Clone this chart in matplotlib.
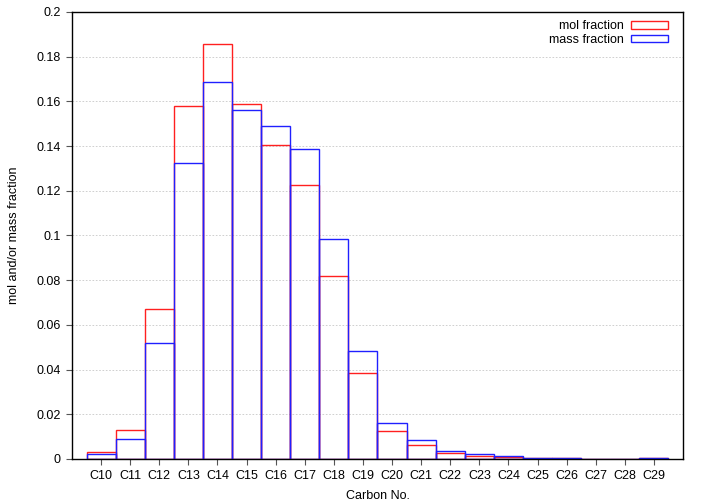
import matplotlib
matplotlib.use('Agg')
import matplotlib.pyplot as plt
from matplotlib.patches import Patch

# data
carbons = ['C10', 'C11', 'C12', 'C13', 'C14', 'C15', 'C16', 'C17', 'C18', 'C19',
           'C20', 'C21', 'C22', 'C23', 'C24', 'C25', 'C26', 'C27', 'C28', 'C29']
mol_fraction = [0.0030, 0.0128, 0.0671, 0.1581, 0.1857, 0.1587, 0.1405, 0.1226, 0.0819, 0.0385,
                0.0124, 0.0063, 0.0027, 0.0015, 0.0008, 0.0006, 0.0006, 0.0002, 0.0002, 0.0004]
mass_fraction = [0.0021, 0.0091, 0.0517, 0.1323, 0.1687, 0.1562, 0.1490, 0.1387, 0.0984, 0.0483,
                 0.0160, 0.0086, 0.0036, 0.0024, 0.0012, 0.0006, 0.0005, 0.0002, 0.0002, 0.0004]
y_ticks = [0, 0.02, 0.04, 0.06, 0.08, 0.1, 0.12, 0.14, 0.16, 0.18, 0.2]

plt.rcParams['font.family'] = ['Liberation Sans', 'DejaVu Sans']

fig = plt.figure(figsize=(7.05, 5.04), dpi=100)
ax = fig.add_axes([0.1021, 0.0893, 0.8667, 0.8869])

x = list(range(len(carbons)))
ax.bar(x, mol_fraction, width=1.0, fill=False, edgecolor='#ff2020', linewidth=1.0, zorder=3)
ax.bar(x, mass_fraction, width=1.0, fill=False, edgecolor='#2020ff', linewidth=1.0, zorder=3)

ax.set_xlim(-1, len(carbons))
ax.set_ylim(0, 0.2)
ax.set_xticks(x)
ax.set_xticklabels(carbons)
ax.set_yticks(y_ticks)
ax.set_yticklabels(['%g' % v for v in y_ticks])

ax.grid(axis='y', color='#c8c8c8', linestyle=(0, (2, 2)), linewidth=0.6, zorder=0)
ax.tick_params(direction='out', length=4, width=0.8, labelsize=9, color='#555555', pad=4)
for s in ax.spines.values():
    s.set_linewidth(1.0)
    s.set_zorder(5)

ax.set_xlabel('Carbon No.', fontsize=9, labelpad=6)
ax.set_ylabel('mol and/or mass fraction', fontsize=9, labelpad=12)

handles = [Patch(facecolor='white', edgecolor='#ff2020', linewidth=1.0, label='mol fraction'),
           Patch(facecolor='white', edgecolor='#2020ff', linewidth=1.0, label='mass fraction')]
ax.legend(handles=handles, loc='upper right', frameon=False, markerfirst=False, fontsize=9,
          handlelength=2.9, handleheight=0.55, handletextpad=0.6, labelspacing=0.1,
          borderaxespad=0.1, bbox_to_anchor=(0.985, 0.995))

fig.savefig('out.png', dpi=100)
